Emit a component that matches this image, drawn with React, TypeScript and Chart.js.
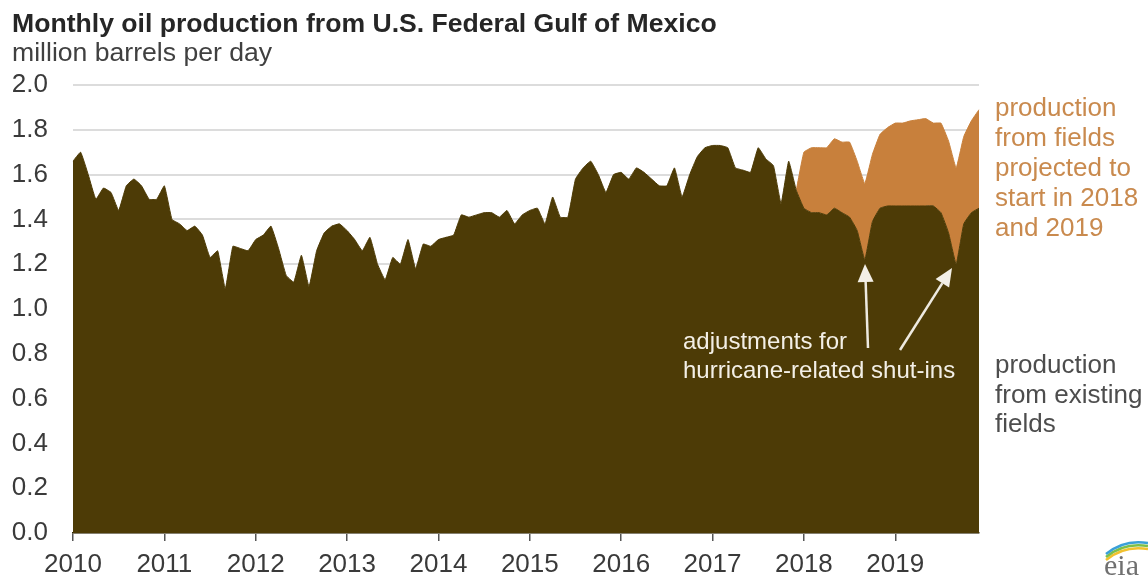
import { useEffect, useRef } from "react";
import { Chart, registerables } from "chart.js";

Chart.register(...registerables);

const FONT = '"Liberation Sans", Arial, Helvetica, sans-serif';

const YEARS = ["2010", "2011", "2012", "2013", "2014", "2015", "2016", "2017", "2018", "2019"];
const MONTHS = ["Jan", "Feb", "Mar", "Apr", "May", "Jun", "Jul", "Aug", "Sep", "Oct", "Nov", "Dec"];
const monthLabels = YEARS.flatMap((y) => MONTHS.map((m) => `${m} ${y}`));

// production from existing fields, million barrels per day (Jan 2010 - Dec 2019)
const existingFields2010 = [1.66, 1.70, 1.60, 1.49, 1.54, 1.52, 1.44, 1.55, 1.58, 1.55, 1.49, 1.49];
const existingFields2011 = [1.55, 1.40, 1.38, 1.35, 1.37, 1.33, 1.23, 1.26, 1.09, 1.28, 1.27, 1.26];
const existingFields2012 = [1.31, 1.33, 1.37, 1.27, 1.15, 1.12, 1.24, 1.10, 1.26, 1.34, 1.37, 1.38];
const existingFields2013 = [1.35, 1.31, 1.26, 1.32, 1.20, 1.13, 1.23, 1.20, 1.31, 1.18, 1.29, 1.28];
const existingFields2014 = [1.31, 1.32, 1.33, 1.42, 1.41, 1.42, 1.43, 1.43, 1.41, 1.44, 1.38, 1.42];
const existingFields2015 = [1.44, 1.45, 1.38, 1.50, 1.41, 1.41, 1.58, 1.63, 1.66, 1.60, 1.52, 1.60];
const existingFields2016 = [1.61, 1.58, 1.63, 1.61, 1.58, 1.55, 1.55, 1.63, 1.50, 1.60, 1.68, 1.72];
const existingFields2017 = [1.73, 1.73, 1.72, 1.63, 1.62, 1.61, 1.72, 1.67, 1.64, 1.47, 1.66, 1.53];
const existingFields2018 = [1.45, 1.43, 1.43, 1.42, 1.45, 1.43, 1.41, 1.35, 1.22, 1.39, 1.45, 1.46];
const existingFields2019 = [1.46, 1.46, 1.46, 1.46, 1.46, 1.46, 1.43, 1.34, 1.20, 1.38, 1.43, 1.45];

const existingFields = [
  ...existingFields2010, ...existingFields2011, ...existingFields2012, ...existingFields2013,
  ...existingFields2014, ...existingFields2015, ...existingFields2016, ...existingFields2017,
  ...existingFields2018, ...existingFields2019,
];

// production from fields projected to start in 2018 and 2019 (stacked on top), from Dec 2017
const newFieldsFrom = "Dec 2017";
const newFieldsValues = [
  0,
  0.25, 0.29, 0.29, 0.30, 0.31, 0.315, 0.335, 0.31, 0.34, 0.30, 0.33, 0.35,
  0.37, 0.37, 0.38, 0.385, 0.39, 0.37, 0.40, 0.41, 0.43, 0.39, 0.41, 0.44,
];

const Y_MIN = 0;
const Y_MAX = 2.0;
const Y_STEP = 0.2;

const TITLE = "Monthly oil production from U.S. Federal Gulf of Mexico";
const SUBTITLE = "million barrels per day";
const NEW_FIELDS_LABEL = ["production", "from fields", "projected to", "start in 2018", "and 2019"];
const EXISTING_LABEL = ["production", "from existing", "fields"];
const HURRICANE_NOTE = ["adjustments for", "hurricane-related shut-ins"];

const DARK = "#4d3b06";
const ORANGE = "#c8803c";

const annotations = {
  id: "annotations",
  afterDraw(chart: any) {
    const ctx = chart.ctx as CanvasRenderingContext2D;
    ctx.save();
    ctx.textAlign = "left";
    ctx.textBaseline = "alphabetic";

    // title + unit
    ctx.fillStyle = "#262626";
    ctx.font = `bold 26.6px ${FONT}`;
    ctx.fillText(TITLE, 12, 32);
    ctx.fillStyle = "#404040";
    ctx.font = `26.6px ${FONT}`;
    ctx.fillText(SUBTITLE, 12, 61);

    // right-side series labels
    ctx.font = `26px ${FONT}`;
    ctx.fillStyle = "#c98a4e";
    NEW_FIELDS_LABEL.forEach((t, k) => ctx.fillText(t, 995, 116 + k * 30));
    ctx.fillStyle = "#4d4d4d";
    EXISTING_LABEL.forEach((t, k) => ctx.fillText(t, 995, 373 + k * 29.5));

    // hurricane note
    ctx.font = `24px ${FONT}`;
    ctx.fillStyle = "#f3efe6";
    ctx.fillText(HURRICANE_NOTE[0], 683, 349);
    ctx.fillText(HURRICANE_NOTE[1], 683, 378);

    const arrow = (x1: number, y1: number, x2: number, y2: number) => {
      const ang = Math.atan2(y2 - y1, x2 - x1);
      const headLen = 18;
      const headW = 8;
      const bx = x2 - headLen * Math.cos(ang);
      const by = y2 - headLen * Math.sin(ang);
      ctx.strokeStyle = "#eeeae0";
      ctx.lineWidth = 2.5;
      ctx.beginPath();
      ctx.moveTo(x1, y1);
      ctx.lineTo(bx, by);
      ctx.stroke();
      ctx.fillStyle = "#f3efe6";
      ctx.beginPath();
      ctx.moveTo(x2, y2);
      ctx.lineTo(bx + headW * Math.sin(ang), by - headW * Math.cos(ang));
      ctx.lineTo(bx - headW * Math.sin(ang), by + headW * Math.cos(ang));
      ctx.closePath();
      ctx.fill();
    };
    arrow(868, 348, 865, 264);
    arrow(900, 350, 952, 268);

    // eia logo
    ctx.lineWidth = 2.5;
    const arcs = [
      ["#f2c12e", 0],
      ["#7cbf4a", 3],
      ["#3aa0d8", 6],
    ] as const;
    arcs.forEach(([c, o]) => {
      ctx.strokeStyle = c;
      ctx.beginPath();
      ctx.moveTo(1106, 560 - o);
      ctx.quadraticCurveTo(1124, 545 - o, 1148, 549 - o);
      ctx.stroke();
    });
    ctx.fillStyle = "#707070";
    ctx.font = `30px "Liberation Serif", "DejaVu Serif", serif`;
    ctx.fillText("eia", 1104, 575);
    ctx.restore();
  },
};

export default function App() {
  const ref = useRef<HTMLCanvasElement | null>(null);

  useEffect(() => {
    if (!ref.current) return;
    const startIdx = monthLabels.indexOf(newFieldsFrom);
    const newFields = monthLabels.map((_, i) => (i < startIdx ? null : newFieldsValues[i - startIdx]));

    const chart = new Chart(ref.current, {
      type: "line",
      data: {
        labels: monthLabels,
        datasets: [
          {
            label: "production from existing fields",
            data: existingFields,
            backgroundColor: DARK,
            borderColor: DARK,
            borderWidth: 1,
            fill: "origin",
            pointRadius: 0,
            tension: 0.1,
          },
          {
            label: "production from fields projected to start in 2018 and 2019",
            data: newFields as any,
            backgroundColor: ORANGE,
            borderColor: ORANGE,
            borderWidth: 1,
            fill: "-1",
            pointRadius: 0,
            tension: 0.1,
          },
        ],
      },
      options: {
        animation: false,
        responsive: false,
        maintainAspectRatio: false,
        layout: { padding: { top: 85, right: 169, left: 0, bottom: 0 } },
        plugins: {
          legend: { display: false },
          tooltip: { enabled: false },
          title: { display: false },
        },
        scales: {
          x: {
            type: "category",
            offset: false,
            grid: {
              drawOnChartArea: false,
              drawTicks: true,
              tickLength: 8,
              lineWidth: 1.5,
              color: (c: any) => (c.index % 12 === 0 ? "#555555" : "rgba(0,0,0,0)"),
            },
            border: { display: true, color: "#2e2405", width: 1.5 },
            ticks: {
              autoSkip: false,
              maxRotation: 0,
              minRotation: 0,
              padding: 8,
              color: "#3a3a3a",
              font: { family: FONT, size: 26 },
              callback: (_v: any, i: number) => (i % 12 === 0 ? YEARS[i / 12] : ""),
            },
            afterFit: (s: any) => {
              s.height = 44;
            },
          },
          y: {
            min: Y_MIN,
            max: Y_MAX,
            stacked: true,
            grid: { color: "#dcdcdc", lineWidth: 2, drawTicks: false },
            border: { display: false },
            ticks: {
              stepSize: Y_STEP,
              padding: 25,
              color: "#3a3a3a",
              font: { family: FONT, size: 26 },
              callback: (v: any) => Number(v).toFixed(1),
            },
            afterFit: (s: any) => {
              s.width = 73;
            },
          },
        },
      },
      plugins: [annotations],
    });
    return () => chart.destroy();
  }, []);

  return (
    <div style={{ position: "absolute", left: 0, top: 0, width: 1148, height: 577, background: "#fff" }}>
      <canvas ref={ref} width={1148} height={577} />
    </div>
  );
}
